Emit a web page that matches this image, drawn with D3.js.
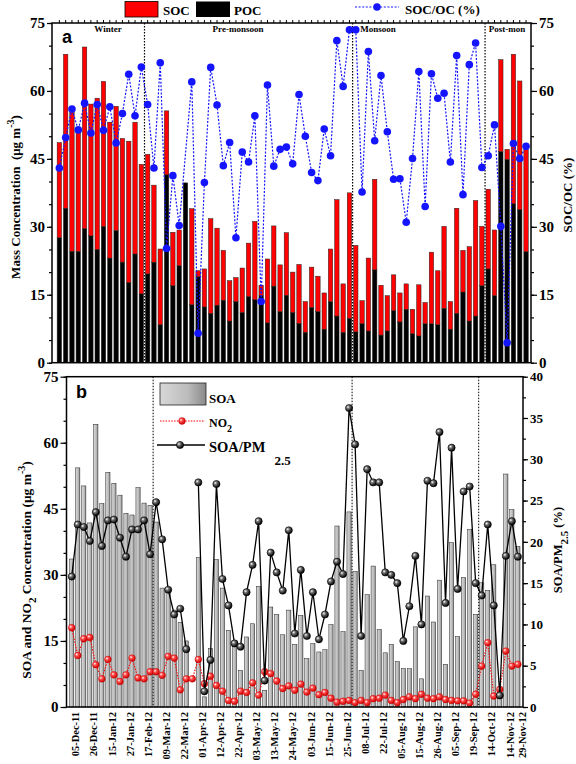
<!DOCTYPE html>
<html><head><meta charset="utf-8">
<script src="https://cdn.jsdelivr.net/npm/d3@7"></script>
<style>
body{margin:0;background:#fff}
text{font-family:"Liberation Serif","Times New Roman",serif;font-weight:bold;fill:#000}
</style></head>
<body>
<svg id="c" width="576" height="764"></svg>
<script>
// ---------- data ----------
const poc = [27.6,34.1,24.6,24.6,29.6,28.0,25.0,30.1,23.1,29.2,22.2,17.7,24.0,15.2,19.6,22.2,8.4,41.5,17.0,21.4,39.7,12.8,19.0,12.3,10.9,12.7,13.8,9.2,13.5,11.1,14.6,13.9,14.8,8.8,16.9,11.3,14.9,11.1,8.7,6.7,12.2,11.3,7.4,13.5,10.3,6.7,9.8,6.8,8.6,7.0,20.5,6.1,7.0,11.5,9.0,11.8,6.4,5.9,8.6,8.6,8.4,12.0,7.4,10.9,15.6,9.2,10.3,17.0,20.7,14.8,46.6,44.9,35.1,33.8,24.5];
const soc = [21.0,34.0,30.7,26.4,40.1,29.1,33.4,32.0,30.0,27.4,27.3,31.2,29.1,28.6,26.4,17.0,16.7,14.1,11.8,7.9,0,21.2,1.3,8.4,20.9,17.0,11.0,8.9,5.3,9.8,11.8,17.3,2.3,14.1,13.3,10.3,13.8,8.9,13.0,6.8,8.9,7.8,8.0,11.6,25.7,10.7,27.7,19.1,5.1,16.1,20.0,11.0,7.8,7.9,6.4,5.6,5.4,11.3,4.7,15.8,11.9,18.1,6.1,23.2,9.2,16.4,25.5,13.1,17.6,14.5,20.3,2.2,33.0,28.4,22.6];
const socOc = [43.0,49.7,56.0,51.4,57.3,50.7,57.0,51.3,56.5,48.5,55.0,63.7,54.5,65.3,57.0,43.0,66.2,25.2,41.3,30.3,null,62.0,6.5,39.8,65.2,56.9,43.5,48.6,27.6,46.5,44.3,54.5,13.5,61.3,43.4,47.1,47.6,43.9,59.2,50.0,42.0,40.2,51.6,45.7,71.1,61.0,73.5,73.5,37.7,68.7,49.0,63.4,51.0,40.5,40.6,31.0,45.1,64.3,34.5,63.8,58.4,59.5,44.3,67.8,37.1,65.8,70.6,43.1,45.7,52.5,30.1,4.4,48.4,45.1,47.8];
const soa = [33.6,54.3,50.2,41.8,64.2,46.2,53.3,50.8,48.1,44.0,43.6,49.8,46.3,45.8,42.0,27.0,26.7,22.0,19.2,15.0,0,33.9,2.3,13.3,33.5,27.0,17.4,14.0,8.3,15.9,18.9,27.4,3.8,22.7,21.0,16.4,22.0,14.2,20.8,11.0,14.4,12.5,13.0,18.7,41.1,17.1,44.3,30.8,8.3,25.5,32.0,17.6,12.3,14.2,10.3,8.7,8.7,18.2,6.4,25.2,19.3,28.8,9.7,37.3,16.0,29.4,40.3,21.0,28.2,26.5,32.3,3.0,52.9,44.8,36.5];
const no2 = [18.0,11.7,15.5,15.8,9.6,6.4,10.8,7.3,5.8,7.3,11.1,6.6,6.4,8.0,8.0,7.2,11.5,11.1,3.9,6.4,6.4,10.8,5.3,7.0,4.9,3.6,1.5,1.3,3.6,3.3,5.5,2.7,8.0,7.6,5.9,4.2,4.8,3.8,5.2,3.4,4.3,2.8,3.3,2.0,1.1,1.3,1.5,1.0,1.5,1.0,1.9,2.0,2.7,1.5,1.0,1.7,2.3,1.9,2.9,2.0,1.9,2.3,1.7,1.5,1.4,1.4,0.9,2.9,9.3,14.6,2.5,4.0,12.7,9.3,9.7];
const soaPm = [15.8,22.1,21.8,20.1,23.6,19.5,22.6,22.7,20.5,18.2,21.5,21.5,22.6,18.5,24.8,20.3,14.2,11.2,11.9,7.0,null,27.2,1.9,5.7,27.0,15.5,12.3,7.7,7.3,13.9,17.2,22.5,3.2,18.7,16.3,14.1,21.4,8.9,16.6,8.6,13.9,8.2,11.2,15.2,17.6,16.1,36.2,31.8,8.6,28.8,27.2,27.2,16.3,16.0,15.0,8.0,12.2,18.3,10.0,27.4,27.1,33.3,12.6,31.4,14.3,26.1,26.7,15.0,13.5,22.1,12.3,1.4,18.3,22.5,18.2];
const dateLabels = ["05-Dec-11","26-Dec-11","15-Jan-12","27-Jan-12","17-Feb-12","09-Mar-12","22-Mar-12","01-Apr-12","12-Apr-12","22-Apr-12","03-May-12","13-May-12","24-May-12","03-Jun-12","15-Jun-12","25-Jun-12","08-Jul-12","22-Jul-12","05-Aug-12","15-Aug-12","26-Aug-12","05-Sep-12","19-Sep-12","14-Oct-12","14-Nov-12","29-Nov-12"];
const dateIdx = [0,3,6,9,12,15,18,21,24,27,30,33,36,39,42,45,48,51,54,57,60,63,66,69,72,74];
const seasonNames = ["Winter","Pre-monsoon","Monsoon","Post-mon"];
const seasonEnds = [13,46,67]; // last sample index before each divider
const yTicks = [0,15,30,45,60,75];
const yTicksB2 = [0,5,10,15,20,25,30,35,40];

// ---------- setup ----------
const n = poc.length;
const idx = d3.range(n);
const svg = d3.select("#c");
const defs = svg.append("defs");
function sphere(id, c0, c1, c2){
  const g = defs.append("radialGradient").attr("id",id).attr("cx","35%").attr("cy","35%").attr("r","65%");
  g.append("stop").attr("offset","0%").attr("stop-color",c0);
  g.append("stop").attr("offset","35%").attr("stop-color",c1);
  g.append("stop").attr("offset","100%").attr("stop-color",c2);
}
sphere("sb","#ffffff","#707070","#000000");
sphere("sr","#ffffff","#ff5050","#d00000");
const gb = defs.append("linearGradient").attr("id","gbar");
gb.append("stop").attr("offset","0%").attr("stop-color","#d8d8d8");
gb.append("stop").attr("offset","60%").attr("stop-color","#bcbcbc");
gb.append("stop").attr("offset","100%").attr("stop-color","#8a8a8a");

// ========== PANEL A ==========
const A = {l:52, r:531, t:23, b:362.7};
const xA = d3.scaleBand().domain(idx).range([56.2,529.2]).paddingInner(0.3).paddingOuter(0.15);
const yA = d3.scaleLinear().domain([0,75]).range([A.b,A.t]);
const tableA = idx.map(i=>({i, POC:poc[i], SOC:soc[i]}));
const stackA = d3.stack().keys(["POC","SOC"])(tableA);
const colA = {POC:"#000000", SOC:"#ff0000"};
svg.append("g").selectAll("g").data(stackA).join("g")
  .attr("fill", d=>colA[d.key])
  .selectAll("rect").data(d=>d).join("rect")
  .attr("x", d=>xA(d.data.i)).attr("width", xA.bandwidth())
  .attr("y", d=>yA(d[1])).attr("height", d=>Math.max(0,yA(d[0])-yA(d[1])))
  .attr("stroke","#222").attr("stroke-width",0.5);

// dividers
function divX(xs, i){ return (xs(i)+xs(i+1)+xs.bandwidth())/2; }
svg.append("g").selectAll("line").data(seasonEnds).join("line")
  .attr("x1",d=>divX(xA,d)).attr("x2",d=>divX(xA,d))
  .attr("y1",A.t).attr("y2",A.b)
  .attr("stroke","#000").attr("stroke-width",1.2).attr("stroke-dasharray","1.5,1.5");

// SOC/OC line
const yAr = d3.scaleLinear().domain([0,75]).range([A.b,A.t]);
const ptsA = idx.filter(i=>socOc[i]!==null);
const cx = (xs,i)=>xs(i)+xs.bandwidth()/2;
svg.append("path").datum(ptsA)
  .attr("d", d3.line().x(i=>cx(xA,i)).y(i=>yAr(socOc[i])))
  .attr("fill","none").attr("stroke","#1414ff").attr("stroke-width",1.2).attr("stroke-dasharray","2,1.6");
svg.append("g").selectAll("circle").data(ptsA).join("circle")
  .attr("cx",i=>cx(xA,i)).attr("cy",i=>yAr(socOc[i])).attr("r",3.8).attr("fill","#1414ff");

// frame A
svg.append("rect").attr("x",A.l).attr("y",A.t).attr("width",A.r-A.l).attr("height",A.b-A.t)
  .attr("fill","none").attr("stroke","#000").attr("stroke-width",1.5);
// top ticks
svg.append("g").selectAll("line").data(idx).join("line")
  .attr("x1",i=>cx(xA,i)).attr("x2",i=>cx(xA,i)).attr("y1",A.t).attr("y2",A.t-3)
  .attr("stroke","#000").attr("stroke-width",1);

function yAxis(scale, x, side, major, minor, fs, len){
  const ax = (side==="left"?d3.axisLeft:d3.axisRight)(scale).tickValues(minor).tickSize(3).tickFormat("");
  const g1 = svg.append("g").attr("transform",`translate(${x},0)`).call(ax);
  g1.select(".domain").remove();
  const ax2 = (side==="left"?d3.axisLeft:d3.axisRight)(scale).tickValues(major).tickSize(len).tickPadding(2).tickFormat(d3.format("d"));
  const g2 = svg.append("g").attr("transform",`translate(${x},0)`).call(ax2);
  g2.select(".domain").remove();
  g2.selectAll("text").attr("font-size",fs).attr("font-family",null).attr("fill","#000");
  g1.selectAll("line,path").attr("stroke","#000").attr("stroke-width",1.2);
  g2.selectAll("line").attr("stroke","#000").attr("stroke-width",1.2);
  return g2;
}
const minorA = d3.range(0,76,5);
yAxis(yA, A.l, "left", yTicks, minorA, 15, 5);
yAxis(yAr, A.r, "right", yTicks, minorA, 15, 6);

// season labels
const segs = [[-1,seasonEnds[0]],[seasonEnds[0],seasonEnds[1]],[seasonEnds[1],seasonEnds[2]],[seasonEnds[2],n-1]];
const segX = [108, 238, 378, 507];
svg.append("g").selectAll("text").data(seasonNames).join("text")
  .attr("x",(d,k)=>segX[k]).attr("y",32).attr("text-anchor","middle").attr("font-size",9).text(d=>d);

svg.append("text").attr("x",62).attr("y",43).attr("font-size",18)
  .style("font-family","'Liberation Sans',Arial,sans-serif").text("a");

// legend A
svg.append("rect").attr("x",125).attr("y",1.5).attr("width",33).attr("height",15.5).attr("fill","#ff0000").attr("stroke","#000").attr("stroke-width",0.8);
svg.append("text").attr("x",163).attr("y",15).attr("font-size",13).text("SOC");
svg.append("rect").attr("x",196).attr("y",1.5).attr("width",34).attr("height",15.5).attr("fill","#000");
svg.append("text").attr("x",234).attr("y",15).attr("font-size",13).text("POC");
svg.append("line").attr("x1",355).attr("x2",399).attr("y1",7).attr("y2",7).attr("stroke","#1414ff").attr("stroke-width",1.2).attr("stroke-dasharray","2,1.6");
svg.append("circle").attr("cx",377).attr("cy",7).attr("r",3.8).attr("fill","#1414ff");
svg.append("text").attr("x",405).attr("y",14).attr("font-size",13).text("SOC/OC (%)");

// axis titles A
const tA = svg.append("text").attr("transform","translate(20,197) rotate(-90)").attr("text-anchor","middle").attr("font-size",13).style("white-space","pre");
tA.append("tspan").text("Mass Concentration  (μg m");
tA.append("tspan").attr("dy",-6).attr("font-size",10).text("-3");
tA.append("tspan").attr("dy",6).text(")");
svg.append("text").attr("transform","translate(572,195) rotate(-90)").attr("text-anchor","middle").attr("font-size",13).text("SOC/OC (%)");

// ========== PANEL B ==========
const B = {l:66.5, r:523, t:376.7, b:707};
const xB = d3.scaleBand().domain(idx).range([68.7,520.9]).paddingInner(0.3).paddingOuter(0.15);
const yB = d3.scaleLinear().domain([0,75]).range([B.b,B.t]);
const yB2 = d3.scaleLinear().domain([0,40]).range([B.b,B.t]);

svg.append("g").selectAll("rect").data(idx).join("rect")
  .attr("x",i=>xB(i)).attr("width",xB.bandwidth())
  .attr("y",i=>yB(soa[i])).attr("height",i=>B.b-yB(soa[i]))
  .attr("fill","url(#gbar)").attr("stroke","#222").attr("stroke-width",0.5);

svg.append("g").selectAll("line").data(seasonEnds).join("line")
  .attr("x1",d=>divX(xB,d)).attr("x2",d=>divX(xB,d))
  .attr("y1",B.t).attr("y2",B.b)
  .attr("stroke","#000").attr("stroke-width",1).attr("stroke-dasharray","1.5,1.5");

// NO2
svg.append("path").datum(idx)
  .attr("d", d3.line().x(i=>cx(xB,i)).y(i=>yB(no2[i])))
  .attr("fill","none").attr("stroke","#ff0000").attr("stroke-width",1.1).attr("stroke-dasharray","1.5,1.3");
svg.append("g").selectAll("circle").data(idx).join("circle")
  .attr("cx",i=>cx(xB,i)).attr("cy",i=>yB(no2[i])).attr("r",3.4).attr("fill","url(#sr)").attr("stroke","#c00000").attr("stroke-width",0.4);

// SOA/PM2.5
svg.append("path").datum(idx)
  .attr("d", d3.line().defined(i=>soaPm[i]!==null).x(i=>cx(xB,i)).y(i=>yB2(soaPm[i])))
  .attr("fill","none").attr("stroke","#000").attr("stroke-width",1.3);
const ptsB = idx.filter(i=>soaPm[i]!==null);
svg.append("g").selectAll("circle").data(ptsB).join("circle")
  .attr("cx",i=>cx(xB,i)).attr("cy",i=>yB2(soaPm[i])).attr("r",3.6).attr("fill","url(#sb)").attr("stroke","#000").attr("stroke-width",0.6);

svg.append("rect").attr("x",B.l).attr("y",B.t).attr("width",B.r-B.l).attr("height",B.b-B.t)
  .attr("fill","none").attr("stroke","#000").attr("stroke-width",1.5);

yAxis(yB, B.l, "left", yTicks, minorA, 15, 6);
yAxis(yB2, B.r, "right", yTicksB2, d3.range(0,40.1,2.5), 13, 5);

// x axis labels
const lab = d3.scaleOrdinal().domain(dateIdx).range(dateLabels);
const xAxB = d3.axisBottom(xB).tickValues(dateIdx).tickSize(0).tickFormat(i=>lab(i));
const gx = svg.append("g").attr("transform",`translate(0,${B.b})`).call(xAxB);
gx.select(".domain").remove();
gx.selectAll("text").attr("font-family",null).attr("font-size",10.5).attr("fill","#000")
  .attr("transform","rotate(-90)").attr("text-anchor","end").attr("x",-5).attr("y",4).attr("dy","0.35em");

svg.append("text").attr("x",76).attr("y",398).attr("font-size",18)
  .style("font-family","'Liberation Sans',Arial,sans-serif").text("b");

// legend B
svg.append("rect").attr("x",160).attr("y",383).attr("width",46).attr("height",22).attr("fill","url(#gbar)").attr("stroke","#222").attr("stroke-width",0.8);
svg.append("text").attr("x",209).attr("y",403).attr("font-size",13).text("SOA");
svg.append("line").attr("x1",160).attr("x2",205).attr("y1",421).attr("y2",421).attr("stroke","#ff0000").attr("stroke-width",1.1).attr("stroke-dasharray","1.5,1.3");
svg.append("circle").attr("cx",182).attr("cy",421).attr("r",3.4).attr("fill","url(#sr)").attr("stroke","#c00000").attr("stroke-width",0.4);
const tn = svg.append("text").attr("x",209).attr("y",427).attr("font-size",12);
tn.append("tspan").text("NO");
tn.append("tspan").attr("dy",5).attr("font-size",10).text("2");
svg.append("line").attr("x1",157).attr("x2",205).attr("y1",445).attr("y2",445).attr("stroke","#000").attr("stroke-width",1.3);
svg.append("circle").attr("cx",180).attr("cy",445).attr("r",3.6).attr("fill","url(#sb)").attr("stroke","#000").attr("stroke-width",0.6);
const ts = svg.append("text").attr("x",209).attr("y",452).attr("font-size",14.5);
ts.append("tspan").text("SOA/PM");
ts.append("tspan").attr("dx",9).attr("dy",13).attr("font-size",13).text("2.5");

// axis titles B
const tB = svg.append("text").attr("transform","translate(31,570) rotate(-90)").attr("text-anchor","middle").attr("font-size",13.5).style("white-space","pre");
tB.append("tspan").text("SOA and NO");
tB.append("tspan").attr("dy",5).attr("font-size",11).text("2");
tB.append("tspan").attr("dy",-5).text(" Concentration (μg m");
tB.append("tspan").attr("dy",-6).attr("font-size",10).text("-3");
tB.append("tspan").attr("dy",6).text(")");
const tR = svg.append("text").attr("transform","translate(562,550) rotate(-90)").attr("text-anchor","middle").attr("font-size",12.5);
tR.append("tspan").text("SOA/PM");
tR.append("tspan").attr("dy",6).attr("font-size",11).text("2.5");
tR.append("tspan").attr("dy",-6).text(" (%)");
</script>
</body></html>
